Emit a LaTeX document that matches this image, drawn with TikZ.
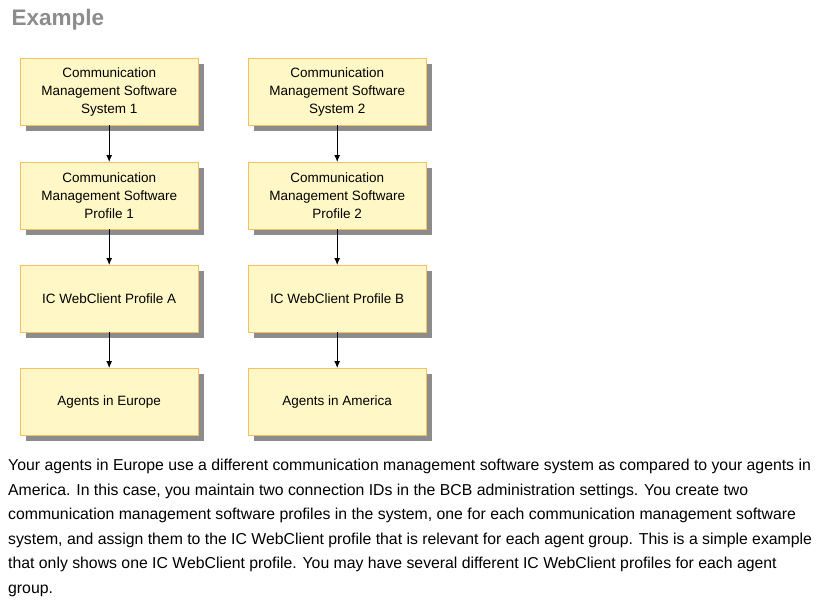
\documentclass[tikz,border=0pt]{standalone}
\usepackage{fontspec}
\setmainfont{Liberation Sans}
\definecolor{bfill}{HTML}{FFF8C6}
\definecolor{bdraw}{HTML}{F5C060}
\usetikzlibrary{arrows.meta}
\begin{document}
\begin{tikzpicture}[x=1pt,y=-1pt,
 bx/.style={draw=bdraw, fill=bfill, minimum width=178pt, minimum height=67pt, align=center, font=\fontsize{13.5}{18}\selectfont, anchor=north west, inner sep=0pt},
 sh/.style={fill=black!45},
 ar/.style={-{Latex[length=7pt,width=6pt]}, black, line width=0.9pt}]
\useasboundingbox (0,0) rectangle (830,605);
\node[anchor=west, font=\bfseries\fontsize{22.5}{26}\selectfont, text=black!45] (title) at (8,20) {Example};
\foreach \x/\n in {20/L,248/R}{
 \foreach \y/\m in {58/1,162/2,265/3,368/4}{
  \fill[sh] (\x+6,\y+6) rectangle ++(178,67);
 }}
\node[bx] (l1) at (20,58) {Communication\\Management Software\\System 1};
\node[bx] (l2) at (20,162) {Communication\\Management Software\\Profile 1};
\node[bx] (l3) at (20,265) {IC WebClient Profile A};
\node[bx] (l4) at (20,368) {Agents in Europe};
\node[bx] (r1) at (248,58) {Communication\\Management Software\\System 2};
\node[bx] (r2) at (248,162) {Communication\\Management Software\\Profile 2};
\node[bx] (r3) at (248,265) {IC WebClient Profile B};
\node[bx] (r4) at (248,368) {Agents in America};
\foreach \a/\b in {l1/l2,l2/l3,l3/l4,r1/r2,r2/r3,r3/r4}
 \draw[ar] (\a.south) -- (\b.north);
\node[anchor=north west, align=left, inner sep=0pt, font=\fontsize{15.8}{24.5}\selectfont] (body) at (8,459) {Your agents in Europe use a different communication management software system as compared to your agents in\\America. In this case, you maintain two connection IDs in the BCB administration settings. You create two\\communication management software profiles in the system, one for each communication management software\\system, and assign them to the IC WebClient profile that is relevant for each agent group. This is a simple example\\that only shows one IC WebClient profile. You may have several different IC WebClient profiles for each agent\\group.};
\end{tikzpicture}
\end{document}
